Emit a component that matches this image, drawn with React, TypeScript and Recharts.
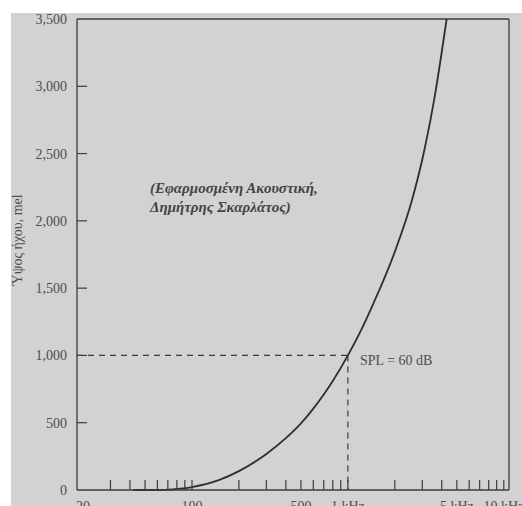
import { Line, LineChart, ReferenceLine, XAxis, YAxis } from 'recharts'

// pitch (mel) vs frequency, SPL = 60 dB
const freqHz = [42, 60, 75, 100, 150, 200, 300, 400, 500, 600, 700, 800, 1000, 1200, 1450, 2000, 2600, 3100, 3600, 4300]
const pitchMel = [0, 0, 5, 22, 75, 140, 268, 385, 495, 605, 710, 810, 1000, 1175, 1380, 1770, 2170, 2530, 2920, 3500]

const xTicks = [
  20, 30, 40, 50, 60, 70, 80, 90, 100, 200, 300, 400, 500, 600, 700, 800, 900, 1000,
  2000, 3000, 4000, 5000, 6000, 7000, 8000, 9000, 10000,
]
const xLabels: Record<number, string> = {
  20: '20',
  100: '100',
  500: '500',
  1000: '1 kHz',
  5000: '5 kHz',
  10000: '10 kHz',
}
const yTicks = [0, 500, 1000, 1500, 2000, 2500, 3000, 3500]

const X_MIN = 18.3
const X_MAX = 10800
const INK = '#3c3c3c'
const TEXT = '#4e4e4e'
const FONT = '"Liberation Serif", "DejaVu Serif", serif'

const rows = freqHz.map((f, i) => ({ f, mel: pitchMel[i] }))

function XTick({ x, y, payload }: any) {
  const v = payload.value as number
  const label = xLabels[v]
  return (
    <g>
      {v !== 20 && <line x1={x} x2={x} y1={y} y2={y - 10} stroke={INK} strokeWidth={1.2} />}
      {label && (
        <text x={x} y={y + 21} textAnchor="middle" fill={TEXT} fontSize={14} fontFamily={FONT}>
          {label}
        </text>
      )}
    </g>
  )
}

function YTick({ x, y, payload }: any) {
  const v = payload.value as number
  return (
    <g>
      {v !== 0 && v !== 3500 && (
        <line x1={x} x2={x + 10} y1={y} y2={y} stroke={INK} strokeWidth={1.2} />
      )}
      <text x={x - 10} y={y + 5} textAnchor="end" fill={TEXT} fontSize={14} fontFamily={FONT}>
        {v.toLocaleString('en-US')}
      </text>
    </g>
  )
}

export default function App() {
  return (
    <div
      style={{
        position: 'absolute',
        left: 0,
        top: 0,
        width: 522,
        height: 506,
        overflow: 'hidden',
        background: '#ffffff',
        fontFamily: FONT,
      }}
    >
      <div style={{ position: 'absolute', left: 11, top: 13, right: 0, bottom: 0, background: '#d2d2d2' }} />
      <div style={{ position: 'absolute', left: 0, top: 0 }}>
        <LineChart width={522} height={525} data={rows} margin={{ top: 19, right: 13, bottom: 0, left: 0 }}>
          <XAxis
            dataKey="f"
            type="number"
            scale="log"
            domain={[X_MIN, X_MAX]}
            allowDataOverflow
            ticks={xTicks}
            interval={0}
            height={35}
            tickSize={0}
            tickMargin={0}
            tickLine={false}
            axisLine={{ stroke: INK, strokeWidth: 1.3 }}
            tick={<XTick />}
          />
          <YAxis
            type="number"
            domain={[0, 3500]}
            ticks={yTicks}
            interval={0}
            width={77}
            tickSize={0}
            tickMargin={0}
            tickLine={false}
            axisLine={{ stroke: INK, strokeWidth: 1.3 }}
            tick={<YTick />}
          />
          <ReferenceLine y={3500} stroke={INK} strokeWidth={1.3} ifOverflow="visible" />
          <ReferenceLine x={X_MAX} stroke={INK} strokeWidth={1.3} ifOverflow="visible" />
          <ReferenceLine
            segment={[
              { x: X_MIN, y: 1000 },
              { x: 1000, y: 1000 },
            ]}
            stroke={INK}
            strokeWidth={1.2}
            strokeDasharray="6 5"
          />
          <ReferenceLine
            segment={[
              { x: 1000, y: 1000 },
              { x: 1000, y: 0 },
            ]}
            stroke={INK}
            strokeWidth={1.2}
            strokeDasharray="6 5"
          />
          <Line
            dataKey="mel"
            type="monotone"
            stroke="#2e2e2e"
            strokeWidth={1.8}
            dot={false}
            isAnimationActive={false}
          />
        </LineChart>
      </div>
      <div
        style={{
          position: 'absolute',
          left: 18,
          top: 240,
          transform: 'translate(-50%, -50%) rotate(-90deg)',
          whiteSpace: 'nowrap',
          fontSize: 14,
          color: TEXT,
        }}
      >
        Ύψος ήχου, mel
      </div>
      <div
        style={{
          position: 'absolute',
          left: 150,
          top: 179,
          fontSize: 15,
          lineHeight: '19px',
          fontWeight: 'bold',
          fontStyle: 'italic',
          color: '#444',
        }}
      >
        (Εφαρμοσμένη Ακουστική,
        <br />
        Δημήτρης Σκαρλάτος)
      </div>
      <div style={{ position: 'absolute', left: 360, top: 353, fontSize: 14, color: TEXT }}>SPL = 60 dB</div>
    </div>
  )
}
